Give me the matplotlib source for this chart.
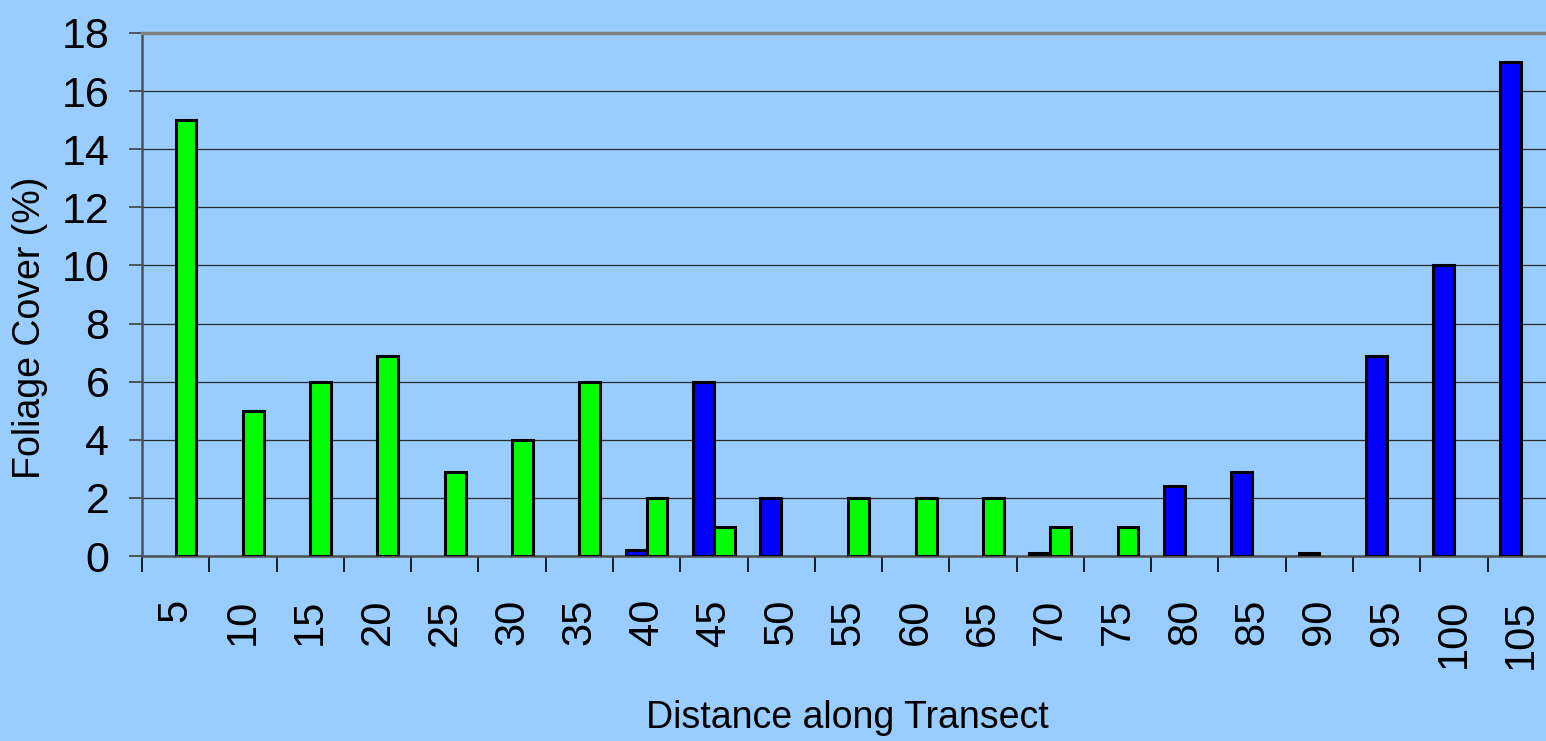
import matplotlib
matplotlib.use('Agg')
import matplotlib.pyplot as plt
import numpy as np

# ------------------------------------------------------------
# data
# ------------------------------------------------------------
distances = [5, 10, 15, 20, 25, 30, 35, 40, 45, 50, 55,
             60, 65, 70, 75, 80, 85, 90, 95, 100, 105]
cover_blue = [0, 0, 0, 0, 0, 0, 0, 0.2, 6, 2, 0,
              0, 0, 0.1, 0, 2.4, 2.9, 0.1, 6.9, 10, 17]
cover_green = [15, 5, 6, 6.9, 2.9, 4, 6, 2, 1, 0, 2,
               2, 2, 1, 1, 0, 0, 0, 0, 0, 0]
y_ticks = [0, 2, 4, 6, 8, 10, 12, 14, 16, 18]

BG = '#99CCFF'
BLUE = '#0000FF'
GREEN = '#00FF00'

plt.rcParams['font.family'] = ['Liberation Sans', 'DejaVu Sans']

W, H = 1546, 741
fig = plt.figure(figsize=(W / 100, H / 100), dpi=100, facecolor=BG)
# plot area in pixels: left 142, top 33, bottom 556, right = image edge
ax = fig.add_axes([142 / W, (H - 556) / H, (W - 142) / W, (556 - 33) / H])
ax.set_facecolor(BG)

x = np.arange(len(distances))
bw = 0.31
# empty cells (0) draw no bar in the original
blue = np.where(np.array(cover_blue) > 0, cover_blue, np.nan)
green = np.where(np.array(cover_green) > 0, cover_green, np.nan)
ax.bar(x - bw / 2, blue, bw, color=BLUE, edgecolor='black',
       linewidth=2.2, zorder=3)
ax.bar(x + bw / 2, green, bw, color=GREEN, edgecolor='black',
       linewidth=2.2, zorder=3)

ax.set_yticks(y_ticks)
ax.tick_params(axis='y', direction='out', length=9.5, width=1.2,
               color='#404040', pad=14, labelsize=31)
ax.grid(axis='y', color='#2a2a2a', linewidth=0.9, zorder=1)

ax.set_xticks(x)
ax.set_xticklabels([str(d) for d in distances], rotation=90, va='top')
ax.tick_params(axis='x', which='major', length=0, pad=31, labelsize=30)
ax.set_xticks(np.arange(len(distances) + 1) - 0.5, minor=True)
ax.tick_params(axis='x', which='minor', direction='out', length=11.5,
               width=1.2, color='black')

# limits after ticks (set_xticks would widen them)
# category width ~67.3 px -> plot area stops a bit before last group ends
ax.set_xlim(-0.5, -0.5 + (W - 142) / 67.28)
ax.set_ylim(0, 18)

for side in ['left', 'bottom']:
    ax.spines[side].set_color('#505050')
    ax.spines[side].set_linewidth(1.8)
ax.spines['right'].set_visible(False)
ax.spines['top'].set_color('#808080')
ax.spines['top'].set_linewidth(2.5)

fig.text(847 / W, 1 - 718 / H, 'Distance along Transect', fontsize=27,
         ha='center', va='center')
fig.text(30 / W, 1 - 328 / H, 'Foliage Cover (%)', fontsize=27,
         rotation=90, ha='center', va='center')

fig.savefig('out.png', dpi=100, facecolor=BG)
